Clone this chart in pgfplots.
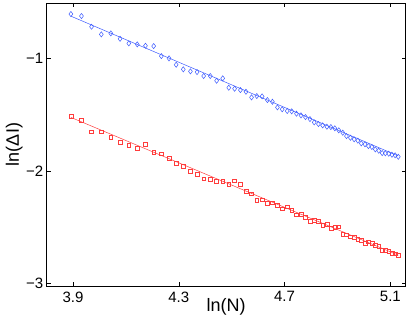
\documentclass[border=0pt]{standalone}
\usepackage{pgfplots}
\usepackage{pgfplotstable}
\pgfplotsset{compat=1.18}
\usepackage{fontspec}
\setmainfont{Liberation Sans}
\definecolor{mblue}{RGB}{60,90,255}
\definecolor{mred}{RGB}{255,60,60}
\pgfplotstableread{
x b r
3.892 -0.606 -1.516
3.932 -0.624 -1.553
3.970 -0.719 -1.652
4.007 -0.787 -1.653
4.043 -0.778 -1.702
4.078 -0.826 -1.744
4.111 -0.867 -1.771
4.143 -0.876 -1.800
4.174 -0.888 -1.762
4.205 -0.891 -1.837
4.234 -0.980 -1.848
4.263 -1.000 -1.891
4.290 -1.057 -1.935
4.317 -1.098 -1.959
4.344 -1.116 -2.002
4.369 -1.122 -2.028
4.394 -1.157 -2.071
4.419 -1.157 -2.075
4.443 -1.199 -2.092
4.466 -1.178 -2.091
4.489 -1.261 -2.119
4.511 -1.270 -2.089
4.533 -1.282 -2.116
4.554 -1.297 -2.181
4.575 -1.347 -2.204
4.595 -1.335 -2.260
4.615 -1.338 -2.258
4.635 -1.371 -2.286
4.654 -1.386 -2.284
4.673 -1.436 -2.307
4.691 -1.453 -2.337
4.710 -1.468 -2.320
4.727 -1.471 -2.351
4.745 -1.492 -2.390
4.762 -1.507 -2.386
4.779 -1.522 -2.411
4.796 -1.540 -2.449
4.812 -1.569 -2.437
4.828 -1.584 -2.446
4.844 -1.596 -2.482
4.860 -1.608 -2.473
4.875 -1.611 -2.512
4.890 -1.622 -2.503
4.905 -1.640 -2.497
4.920 -1.661 -2.564
4.934 -1.691 -2.569
4.949 -1.706 -2.586
4.963 -1.720 -2.591
4.977 -1.732 -2.608
4.990 -1.756 -2.619
5.004 -1.764 -2.644
5.017 -1.780 -2.630
5.030 -1.788 -2.646
5.043 -1.809 -2.661
5.056 -1.821 -2.670
5.069 -1.842 -2.704
5.081 -1.844 -2.708
5.094 -1.848 -2.715
5.106 -1.857 -2.732
5.118 -1.862 -2.737
5.130 -1.875 -2.753
}\datatab
\begin{document}
\begin{tikzpicture}
\begin{axis}[
  name=ax,
  scale only axis,
  width=359pt, height=283pt,
  xmin=3.8005, xmax=5.158,
  ymin=-3.024, ymax=-0.508,
  xtick={3.9,4.3,4.7,5.1},
  xticklabels={3.9,4.3,4.7,5.1},
  ytick={-3,-2,-1},
  yticklabels={−3,−2,−1},
  tick pos=both,
  tick align=inside,
  major tick length=4pt,
  tick style={line width=0.5pt, black},
  axis line style={line width=0.6pt},
  ticklabel style={font=\fontsize{15}{17}\selectfont},
  xticklabel style={yshift=-2pt},
  xlabel={ln(N)},
  ylabel={ln(ΔI)},
  every axis x label/.style={at={(rel axis cs:0.5,0)}, anchor=center, yshift=-21pt, font=\fontsize{18}{20}\selectfont},
  every axis y label/.style={at={(rel axis cs:0,0.5)}, xshift=-32.5pt, rotate=90, anchor=center, font=\fontsize{18}{20}\selectfont},
  clip=false,
]
\addplot[only marks, mark=diamond, mark size=2.6pt, mblue, mark options={line width=0.5pt}] table[x=x, y=b] {\datatab};
\addplot[mblue, line width=0.5pt] coordinates {(3.892,-0.625) (5.130,-1.868)};
\addplot[only marks, mark=square, mark size=1.9pt, mred, mark options={line width=0.5pt}] table[x=x, y=r] {\datatab};
\addplot[mred, line width=0.5pt] coordinates {(3.892,-1.525) (5.130,-2.750)};
\end{axis}
\pgfresetboundingbox
\path ([shift={(-46.7pt,-33pt)}]ax.south west) rectangle ([shift={(3.3pt,3pt)}]ax.north east);
\end{tikzpicture}
\end{document}
